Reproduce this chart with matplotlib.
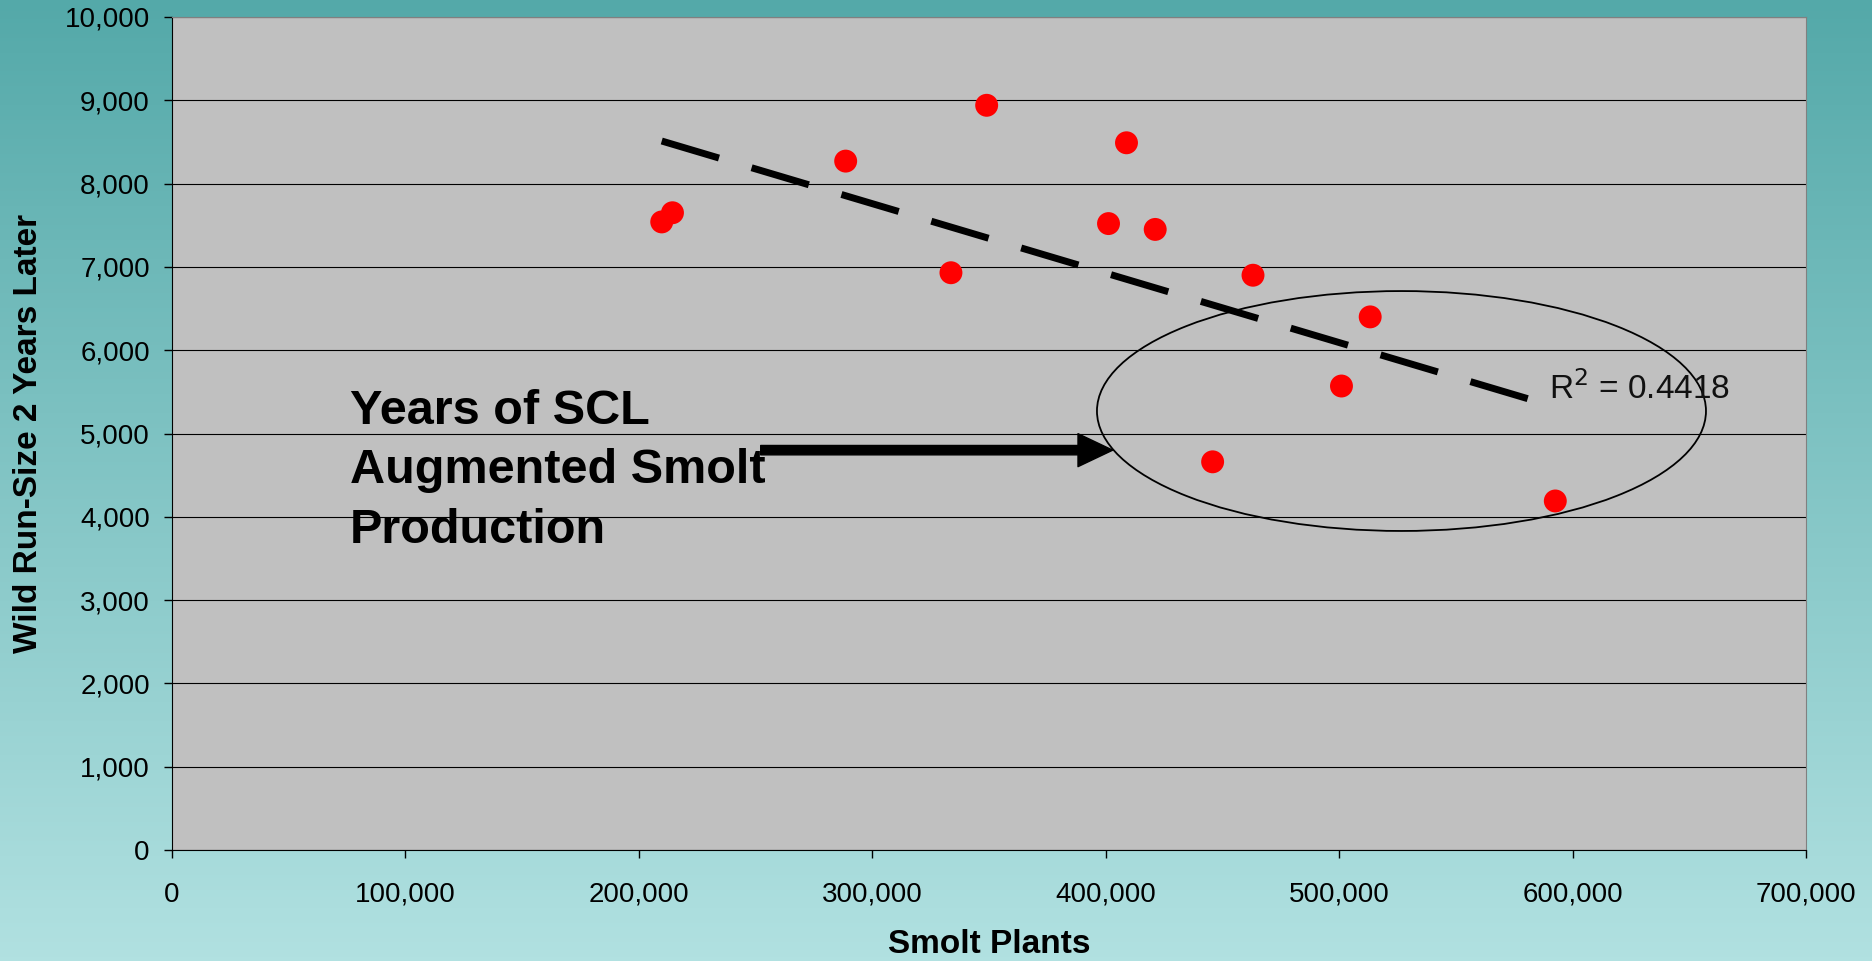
import numpy as np
import matplotlib
matplotlib.use('Agg')
import matplotlib.pyplot as plt
from matplotlib.patches import Ellipse, FancyArrowPatch
from matplotlib.ticker import FuncFormatter, MultipleLocator

plt.rcParams['font.family'] = ['Liberation Sans', 'DejaVu Sans']

# data
smolt_plants = [209800, 214400, 288600, 333700, 349000, 401200, 408900,
                421200, 445800, 463100, 501000, 513300, 592600]
wild_run = [7540, 7650, 8270, 6930, 8940, 7520, 8490,
            7450, 4660, 6900, 5570, 6400, 4190]
r2_text = "0.4418"
note_text = "Years of SCL\nAugmented Smolt\nProduction"
x_label = "Smolt Plants"
y_label = "Wild Run-Size 2 Years Later"

# highlighted region (ellipse) and arrow
ellipse_center = (526700, 5270)
ellipse_size = (260900, 2880)
arrow_from = (252200, 4800)
arrow_to = (403000, 4800)

fig = plt.figure(figsize=(18.72, 9.61), dpi=100)

# gradient background
bg = fig.add_axes([0, 0, 1, 1], zorder=-10)
top = np.array([84, 169, 169]) / 255
bot = np.array([177, 225, 225]) / 255
t = np.linspace(0, 1, 256)[:, None]
grad = (top[None, :] * (1 - t) + bot[None, :] * t)[:, None, :]
bg.imshow(grad, aspect='auto', extent=[0, 1, 0, 1])
bg.axis('off')

ax = fig.add_axes([172/1872, 1 - 850/961, (1806-172)/1872, (850-17)/961])
ax.set_facecolor('#c0c0c0')
ax.set_xlim(0, 700000)
ax.set_ylim(0, 10000)
ax.xaxis.set_major_locator(MultipleLocator(100000))
ax.yaxis.set_major_locator(MultipleLocator(1000))
fmt = FuncFormatter(lambda v, p: f"{v:,.0f}")
ax.xaxis.set_major_formatter(fmt)
ax.yaxis.set_major_formatter(fmt)
ax.tick_params(axis='both', labelsize=20, length=6, width=1, colors='black')
ax.tick_params(axis='x', pad=17)
ax.tick_params(axis='y', pad=10)
ax.yaxis.grid(True, color='black', lw=0.8)
ax.set_axisbelow(True)
for s in ['top', 'right']:
    ax.spines[s].set_color('#808080')
for s in ['left', 'bottom']:
    ax.spines[s].set_color('black')

ax.set_xlabel(x_label, fontsize=24, fontweight='bold', labelpad=15)
ax.set_ylabel(y_label, fontsize=24, fontweight='bold', labelpad=15)

# points
ax.scatter(smolt_plants, wild_run, s=16.5**2, color='#ff0000', edgecolors='none', zorder=3)

# linear trendline
xs = np.array(smolt_plants, dtype=float)
ys = np.array(wild_run, dtype=float)
m, b = np.polyfit(xs, ys, 1)
xt = np.array([xs.min(), xs.max()])
ax.plot(xt, m * xt + b, color='black', lw=5, linestyle=(0, (8.6, 4.9)), zorder=4)
ax.text(589700, 5417, f"R$^2$ = {r2_text}", fontsize=24, color='#111111',
        ha='left', va='baseline', zorder=5)

# annotation
ax.add_patch(Ellipse(ellipse_center, ellipse_size[0], ellipse_size[1],
                     fill=False, edgecolor='black', lw=1.3, zorder=4))
ax.add_patch(FancyArrowPatch(arrow_from, arrow_to,
                             arrowstyle='simple,head_length=1.0,head_width=0.95,tail_width=0.27',
                             mutation_scale=25, color='black', shrinkA=0, shrinkB=0, zorder=4))
ax.text(76250, 3685, note_text, fontsize=35, fontweight='bold', ha='left',
        va='baseline', linespacing=1.42, zorder=5)

fig.savefig('out.png', dpi=100)
